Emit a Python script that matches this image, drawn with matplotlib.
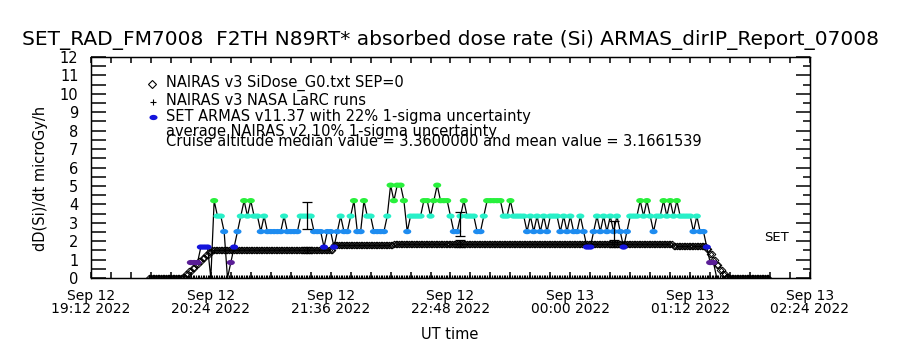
import numpy as np
import pandas as pd
import matplotlib
matplotlib.use('Agg')
import matplotlib.pyplot as plt
import matplotlib.dates as mdates
from matplotlib.ticker import MultipleLocator, FixedLocator

# ARMAS dose rate comes in steps of 0.84 microGy/h, one sample every 2 min
armas_levels = [0.0, 0.84, 1.68, 2.52, 3.36, 4.20, 5.04]
armas_colors = ['black', '#5a1e96', '#1414dc', '#1e8cf0', '#28f0c8', '#28f03c', '#28f03c']
armas_start = '2022-09-12 20:12'
armas_idx = [1, 1, 1, 2, 2, 2, 0, 5, 4, 4,
             3, 0, 1, 2, 3, 4, 5, 4, 5, 4,
             4, 3, 4, 3, 3, 3, 3, 3, 4, 3,
             3, 3, 3, 4, 4, 4, 4, 3, 3, 3,
             2, 3, 3, 2, 3, 4, 3, 3, 4, 5,
             3, 3, 5, 4, 4, 3, 3, 3, 3, 4,
             6, 5, 6, 6, 5, 3, 4, 4, 4, 4,
             5, 5, 4, 5, 6, 5, 5, 5, 4, 3,
             3, 4, 5, 4, 4, 4, 3, 3, 4, 5,
             5, 5, 5, 5, 4, 4, 5, 4, 4, 4,
             4, 3, 4, 3, 4, 3, 4, 3, 4, 4,
             4, 3, 4, 3, 4, 3, 3, 4, 3, 2,
             2, 3, 4, 3, 4, 3, 4, 3, 4, 3,
             2, 3, 4, 4, 4, 5, 4, 5, 4, 3,
             4, 4, 5, 4, 5, 4, 5, 4, 4, 4,
             4, 3, 4, 3, 3, 2, 1, 1, 0]

# NAIRAS v3 model along the flight track (run length coded, 1 min steps)
nairas_start = '2022-09-12 19:47'
nairas_vals = [0.0, 0.05, 0.2, 0.38, 0.56, 0.74, 0.92, 1.1, 1.27, 1.42,
               1.50, 1.78, 1.85, 1.74,
               1.55, 1.3, 1.0, 0.72, 0.45, 0.2, 0.05, 0.0]
nairas_counts = [20, 2, 2, 2, 2, 2, 2, 2, 2, 2,
                 73, 36, 168, 20,
                 2, 2, 2, 2, 2, 2, 2, 24]

# NASA LaRC runs (all zero here)
larc_start = '2022-09-12 19:47'
larc_end = '2022-09-13 01:59'

err_times = ['2022-09-12 21:22', '2022-09-12 22:54', '2022-09-13 00:26']
armas_err_val = [3.40, 2.92, 2.52]
armas_err = [0.75, 0.66, 0.56]
nairas_err_val = [1.50, 1.85, 1.86]
nairas_err = [0.16, 0.19, 0.19]

armas_t = pd.date_range(armas_start, periods=len(armas_idx), freq='2min')
armas_y = np.array([armas_levels[k] for k in armas_idx])
armas_c = np.array([armas_colors[k] for k in armas_idx])
nairas_y = np.repeat(nairas_vals, nairas_counts)
nairas_t = pd.date_range(nairas_start, periods=len(nairas_y), freq='1min')
larc_t = pd.date_range(larc_start, larc_end, freq='1min')
err_t = pd.to_datetime(err_times)

theta = np.linspace(0, 2 * np.pi, 40)
ellipse = np.column_stack([np.cos(theta), 0.65 * np.sin(theta)])

fig = plt.figure(figsize=(9, 3.5), dpi=100)
ax = fig.add_axes([91 / 900, 72 / 350, 719 / 900, 221 / 350])

ax.plot(larc_t, np.zeros(len(larc_t)), '+', color='black', ms=4, mew=0.8, zorder=2)
ax.plot(nairas_t, nairas_y, 'D', mfc='none', mec='black', ms=3.4, mew=0.7, zorder=2)
ax.plot(armas_t, armas_y, '-', color='black', lw=0.9, zorder=3)
nz = armas_y > 0
ax.scatter(armas_t[nz], armas_y[nz], c=armas_c[nz], marker=ellipse, s=34,
           linewidths=0, zorder=4)
ax.errorbar(err_t, armas_err_val, yerr=armas_err, fmt='none', ecolor='black',
            elinewidth=0.9, capsize=3.5, capthick=0.9, zorder=5)
ax.errorbar(err_t, nairas_err_val, yerr=nairas_err, fmt='none', ecolor='black',
            elinewidth=0.9, capsize=3.5, capthick=0.9, zorder=5)

t0 = pd.Timestamp('2022-09-12 19:12')
t1 = pd.Timestamp('2022-09-13 02:24')
ax.set_xlim(t0, t1)
ax.set_ylim(0, 12)
ax.xaxis.set_major_locator(FixedLocator(mdates.date2num(pd.date_range(t0, t1, freq='72min'))))
ax.xaxis.set_minor_locator(FixedLocator(mdates.date2num(pd.date_range(t0, t1, freq='12min'))))
ax.xaxis.set_major_formatter(mdates.DateFormatter('%b %d\n%H:%M %Y'))
ax.yaxis.set_major_locator(MultipleLocator(1))
ax.yaxis.set_minor_locator(MultipleLocator(0.5))

# right axis only carries the long/short ticks
ax2 = ax.twinx()
ax2.set_ylim(0, 12)
ax2.yaxis.set_major_locator(MultipleLocator(1))
ax2.yaxis.set_minor_locator(MultipleLocator(0.5))
ax2.tick_params(axis='y', which='major', direction='in', length=10, width=1.1,
                color='black', labelright=False)
ax2.tick_params(axis='y', which='minor', direction='in', length=5, width=1.1, color='black')

ax.tick_params(axis='x', which='both', direction='in', top=True, bottom=True, length=4, width=1.1,
               color='black', labelsize=10, pad=8)
ax.tick_params(axis='y', which='both', direction='in', left=True, right=False, length=11, width=1.1,
               color='black', labelsize=10.5, pad=9)
for lab in ax.get_xticklabels():
    lab.set_linespacing(0.9)

for a in (ax, ax2):
    for s in a.spines.values():
        s.set_linewidth(0.9)
        s.set_color('black')

ax.set_ylabel('dD(Si)/dt microGy/h', fontsize=10.5)
ax.yaxis.set_label_coords(-0.06, 0.45)
ax.set_xlabel('UT time', fontsize=10.5)
ax.xaxis.set_label_coords(0.499, -0.222)

fig.text(0.5, 1 - 40 / 350, 'SET_RAD_FM7008  F2TH N89RT* absorbed dose rate (Si) ARMAS_dirIP_Report_07008',
         ha='center', va='center', fontsize=14.5)

# legend drawn by hand, IDL style
leg_size = 10.5
ax.plot([0.0853], [0.878], 'D', transform=ax.transAxes, mfc='none', mec='black', ms=3.6, mew=0.8)
ax.text(0.1043, 0.885, 'NAIRAS v3 SiDose_G0.txt SEP=0', transform=ax.transAxes,
        ha='left', va='center', fontsize=leg_size)
ax.plot([0.0866], [0.798], '+', transform=ax.transAxes, color='black', ms=5, mew=0.8)
ax.text(0.1043, 0.805, 'NAIRAS v3 NASA LaRC runs', transform=ax.transAxes,
        ha='left', va='center', fontsize=leg_size)
ax.scatter([0.0866], [0.730], transform=ax.transAxes, marker=ellipse, s=34, c='#1414dc', linewidths=0)
ax.text(0.1043, 0.729, 'SET ARMAS v11.37 with 22% 1-sigma uncertainty', transform=ax.transAxes,
        ha='left', va='center', fontsize=leg_size)
ax.text(0.1043, 0.665, 'average NAIRAS v2 10% 1-sigma uncertainty', transform=ax.transAxes,
        ha='left', va='center', fontsize=leg_size)
ax.text(0.1043, 0.617, 'Cruise altitude median value = 3.3600000 and mean value = 3.1661539',
        transform=ax.transAxes, ha='left', va='center', fontsize=leg_size)
ax.text(0.954, 0.181, 'SET', transform=ax.transAxes, ha='center', va='center', fontsize=9.5)

fig.savefig('out.png', dpi=100)
